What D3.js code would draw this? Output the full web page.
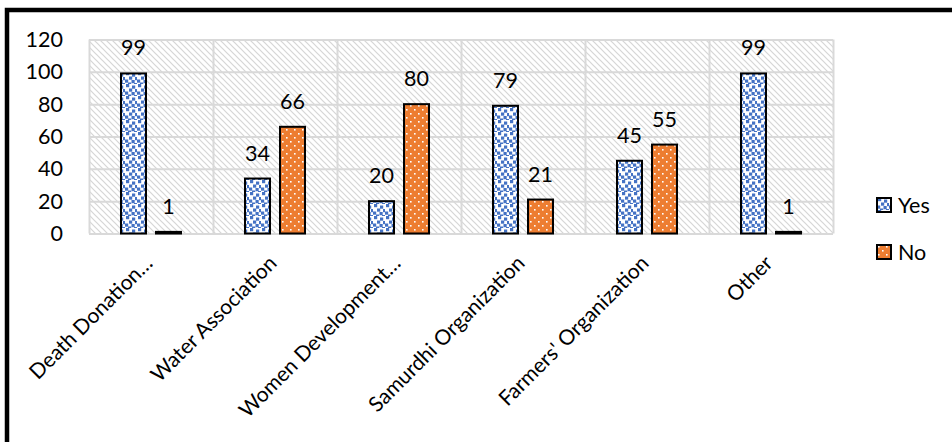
<!DOCTYPE html>
<html><head><meta charset="utf-8">
<script src="https://cdn.jsdelivr.net/npm/d3@7"></script>
<style>
html,body{margin:0;padding:0;background:#fff;}
svg{display:block;}
svg text{font-family:Lato,"Open Sans",sans-serif;}
</style></head>
<body>
<svg id="c" width="952" height="442"></svg>
<script>
const categories = ["Death Donation…","Water Association","Women Development…","Samurdhi Organization","Farmers' Organization","Other"];
const seriesNames = ["Yes","No"];
const yesValues = [99,34,20,79,45,99];
const noValues = [1,66,80,21,55,1];
const yTicks = [0,20,40,60,80,100,120];

const svg = d3.select("#c");
const W = 952, H = 442;
const plot = {l:89, t:39.5, r:833, b:233.5};
const FONT = "Lato, 'Open Sans', sans-serif";

const defs = svg.append("defs");
// background hatch
const hp = defs.append("pattern").attr("id","hatch").attr("patternUnits","userSpaceOnUse")
  .attr("width",6).attr("height",6);
hp.append("rect").attr("width",6).attr("height",6).attr("fill","#fff");
hp.append("path").attr("d","M-1,-1 L7,7 M-1,5 L1,7 M5,-1 L7,1").attr("stroke","#d6d6d6").attr("stroke-width",1.2);
// Yes confetti
const yp = defs.append("pattern").attr("id","pyes").attr("patternUnits","userSpaceOnUse")
  .attr("width",12).attr("height",12);
yp.append("rect").attr("width",12).attr("height",12).attr("fill","#fff");
[[1,0],[7,1.5],[4,4.5],[10,5],[0,7.5],[6.5,8],[3,10.5],[9,11]].forEach(([x,y])=>{
  yp.append("rect").attr("x",x).attr("y",y).attr("width",3.2).attr("height",3.2).attr("fill","#4472C4");
});
// No dotted
const np = defs.append("pattern").attr("id","pno").attr("patternUnits","userSpaceOnUse")
  .attr("width",8).attr("height",8);
np.append("rect").attr("width",8).attr("height",8).attr("fill","#ED7D31");
np.append("rect").attr("x",1).attr("y",1).attr("width",1.6).attr("height",1.6).attr("fill","#fff");
np.append("rect").attr("x",5).attr("y",5).attr("width",1.6).attr("height",1.6).attr("fill","#fff");

const x0 = d3.scaleBand().domain(categories).range([plot.l, plot.r]).paddingInner(0).paddingOuter(0);
const x1 = d3.scaleBand().domain(seriesNames).range([0, x0.bandwidth()]).paddingInner(0.2857).paddingOuter(0.914);
const y = d3.scaleLinear().domain([0,120]).range([plot.b, plot.t]);

// plot background
svg.append("rect").attr("x",plot.l).attr("y",plot.t).attr("width",plot.r-plot.l).attr("height",plot.b-plot.t)
  .attr("fill","url(#hatch)");

// gridlines
const gy = svg.append("g").attr("transform",`translate(${plot.l},0)`)
  .call(d3.axisLeft(y).tickValues(yTicks).tickSize(-(plot.r-plot.l)).tickFormat(""));
gy.select(".domain").remove();
gy.selectAll("line").attr("stroke","#d9d9d9").attr("stroke-width",2);
// vertical category separators
const gx = svg.append("g").attr("transform",`translate(0,${plot.t})`)
  .call(d3.axisTop(d3.scaleLinear().domain([0,categories.length]).range([plot.l,plot.r]))
    .tickValues(d3.range(categories.length+1)).tickSize(-(plot.b-plot.t)).tickFormat(""));
gx.select(".domain").remove();
gx.selectAll("line").attr("stroke","#d9d9d9").attr("stroke-width",2);

// y tick labels
const yl = svg.append("g").attr("transform",`translate(${plot.l},0)`)
  .call(d3.axisLeft(y).tickValues(yTicks).tickSize(0).tickPadding(26));
yl.select(".domain").remove();
yl.attr("font-family",FONT).attr("font-size",21.5);
yl.selectAll("text").attr("fill","#000");

// bars
const data = categories.map((c,i)=>({c, vals:[{s:"Yes",v:yesValues[i]},{s:"No",v:noValues[i]}]}));
const groups = svg.append("g").selectAll("g").data(data).join("g")
  .attr("transform",d=>`translate(${x0(d.c)},0)`);
groups.selectAll("rect").data(d=>d.vals).join("rect")
  .attr("x",d=>x1(d.s)).attr("width",x1.bandwidth())
  .attr("y",d=>y(d.v)).attr("height",d=>y(0)-y(d.v))
  .attr("fill",d=>d.s==="Yes"?"url(#pyes)":"url(#pno)")
  .attr("stroke","#000").attr("stroke-width",2);
groups.selectAll("text").data(d=>d.vals).join("text")
  .attr("x",d=>x1(d.s)+x1.bandwidth()/2).attr("y",d=>y(d.v)-18)
  .attr("text-anchor","middle").attr("font-size",21.5).attr("font-family",FONT).attr("fill","#000")
  .text(d=>d.v);

// x labels
const xl = svg.append("g").attr("transform",`translate(0,${plot.b})`)
  .call(d3.axisBottom(x0).tickSize(0).tickPadding(0));
xl.select(".domain").remove();
xl.attr("font-family",FONT).attr("font-size",21);
xl.selectAll("text").attr("fill","#000")
  .attr("text-anchor","end").attr("dy",0)
  .attr("transform","translate(3,31) rotate(-45)");

// legend
const lg = svg.append("g").selectAll("g").data(seriesNames).join("g")
  .attr("transform",(d,i)=>`translate(877,${198+i*47})`);
lg.append("rect").attr("width",14).attr("height",14)
  .attr("fill",d=>d==="Yes"?"url(#pyes)":"url(#pno)").attr("stroke","#000").attr("stroke-width",2);
lg.append("text").attr("x",21).attr("y",7).attr("dy","0.35em").attr("font-size",21.5).attr("font-family",FONT).text(d=>d);

// frame (top & left visible)
svg.append("path").attr("d",`M7,${H+5} L7,10 L${W+5},10`).attr("fill","none").attr("stroke","#000").attr("stroke-width",4.5);
</script>
</body></html>
